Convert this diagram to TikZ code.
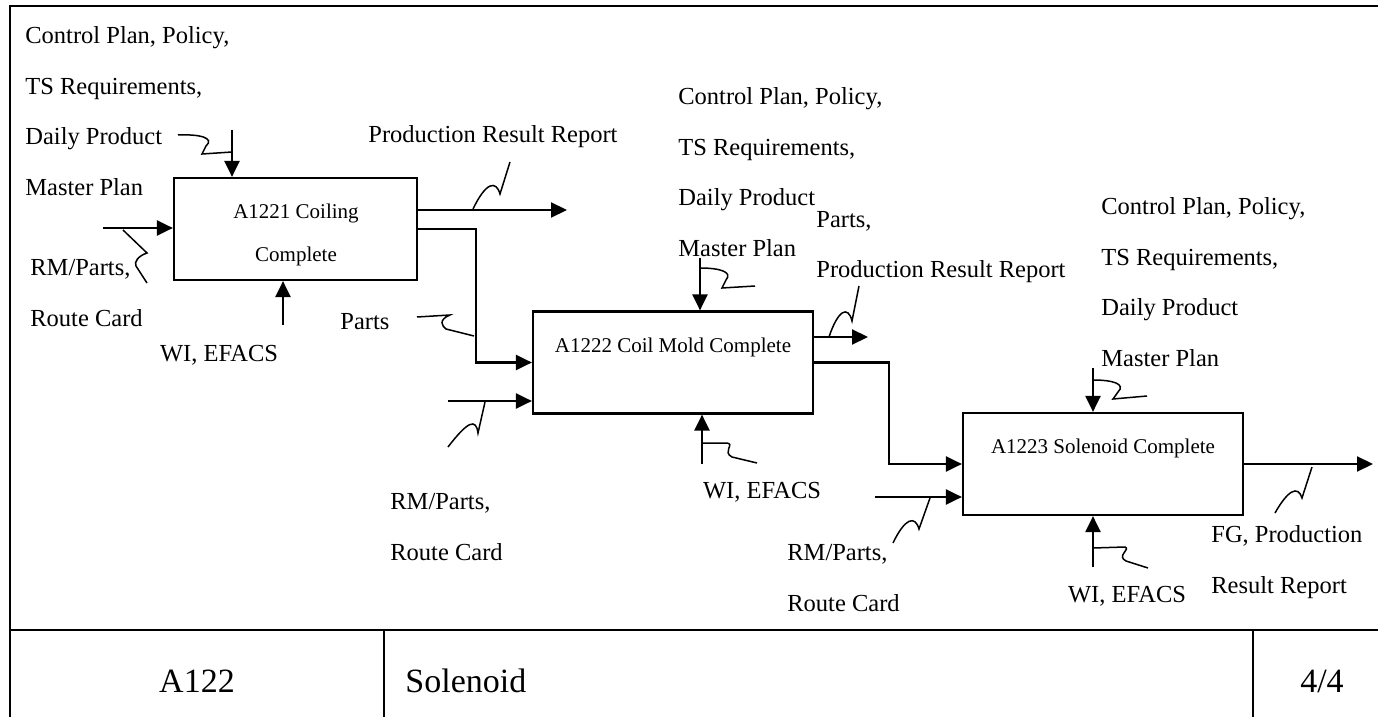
\documentclass[tikz,border=0pt]{standalone}
\usepackage{fontspec}
\setmainfont{Liberation Serif}
\usetikzlibrary{arrows.meta, calc}

\begin{document}
\begin{tikzpicture}[
    x=0.5pt, y=-0.5pt,
    >={Triangle[length=8pt, width=7.5pt]},
    flow/.style={draw, line width=1.1pt, ->},
    squig/.style={draw, line width=0.75pt},
    actbox/.style={draw, line width=1.1pt, minimum width=#1, minimum height=51pt, inner sep=0pt},
    boxtxt/.style={font=\fontsize{10.5}{21.5}\selectfont, align=center, inner sep=0pt},
    lbl/.style={font=\fontsize{12.25}{25.3}\selectfont, align=left, inner sep=0pt, anchor=west},
    cell/.style={font=\fontsize{17}{20}\selectfont, inner sep=0pt},
]
    \useasboundingbox (0,0) rectangle (1378,717);

    % Frame and title row
    \draw[line width=1pt] (1378,6) -- (10,6) -- (10,717);
    \draw[line width=1pt] (10,630) -- (1378,630);
    \draw[line width=1pt] (384,630) -- (384,717) (1253,630) -- (1253,717);
    \node[cell] (id) at (197,681) {A122};
    \node[cell, anchor=west] (title) at (405,681) {Solenoid};
    \node[cell] (page) at (1322,681) {4/4};

    % Activity boxes
    \node[actbox=121.5pt] (b1) at (295.5,229) {};
    \node[actbox=140pt] (b2) at (673,362.5) {};
    \node[actbox=140pt] (b3) at (1103,464) {};
    \node[boxtxt] (b1t) at (296,234.5) {A1221 Coiling\\Complete};
    \node[boxtxt] (b2t) at (673,347) {A1222 Coil Mold Complete};
    \node[boxtxt] (b3t) at (1103,448) {A1223 Solenoid Complete};

    % Free ends
    \coordinate (c1) at (232,130);
    \coordinate (m1) at (283,325);
    \coordinate (i1) at (103,228);
    \coordinate (o1) at (567,210);
    \coordinate (c2) at (700,258);
    \coordinate (m2) at (702,464);
    \coordinate (i2) at (448,401);
    \coordinate (o2) at (868,337);
    \coordinate (c3) at (1093,368);
    \coordinate (m3) at (1093,567);
    \coordinate (i3) at (875,497);
    \coordinate (o3) at (1373,463);

    % A1221
    \draw[flow] (c1) -- (c1 |- b1.north);
    \draw[flow] (m1) -- (m1 |- b1.south);
    \draw[flow] (i1) -- (i1 -| b1.west);
    \draw[flow] (b1.east |- o1) -- (o1);
    \draw[flow] (b1.east) -- ++(58,0) |- (b2.west);

    % A1222
    \draw[flow] (c2) -- (c2 |- b2.north);
    \draw[flow] (m2) -- (m2 |- b2.south);
    \draw[flow] (i2) -- (i2 -| b2.west);
    \draw[flow] (b2.east |- o2) -- (o2);
    \draw[flow] (b2.east) -- ++(75,0) |- (b3.west);

    % A1223
    \draw[flow] (c3) -- (c3 |- b3.north);
    \draw[flow] (m3) -- (m3 |- b3.south);
    \draw[flow] (i3) -- (i3 -| b3.west);
    \draw[flow] (b3.east) -- (b3.east -| o3);

    % Squiggles
    \draw[squig] (178,135) .. controls (200,134) and (215,138) .. (206,146) -- (202,154) -- (232,152);
    \draw[squig] (123,230) -- (147,253) .. controls (138,256) and (134,262) .. (136,266) -- (147,283);
    \draw[squig] (510,162) -- (500,194) .. controls (496,180) and (486,182) .. (473,209);
    \draw[squig] (417,317) -- (450,315) .. controls (438,320) and (442,326) .. (446,329) -- (474,336);
    \draw[squig] (700,268) .. controls (720,268) and (733,272) .. (726,280) -- (722,288) -- (755,286);
    \draw[squig] (485,402) -- (478,433) .. controls (476,418) and (468,421) .. (448,447);
    \draw[squig] (702,443) -- (727,443) .. controls (735,444) and (722,452) .. (732,457) -- (757,463);
    \draw[squig] (859,286) -- (852,321) .. controls (848,305) and (838,310) .. (829,337);
    \draw[squig] (1093,380) .. controls (1113,380) and (1126,384) .. (1118,392) -- (1113,399) -- (1147,396);
    \draw[squig] (930,498) -- (919,529) .. controls (915,515) and (905,518) .. (893,543);
    \draw[squig] (1093,548) -- (1125,547) .. controls (1131,549) and (1116,556) .. (1126,561) -- (1148,568);
    \draw[squig] (1312,467) -- (1302,498) .. controls (1298,485) and (1288,490) .. (1275,513);

    % Labels
    \node[lbl] (l1) at (25,111) {Control Plan, Policy,\\TS Requirements,\\Daily Product\\Master Plan};
    \node[lbl] (l2) at (30,293) {RM/Parts,\\Route Card};
    \node[lbl, anchor=center] (l3) at (219,355) {WI, EFACS};
    \node[lbl] (l4) at (368,137) {Production Result Report};
    \node[lbl] (l5) at (340,322) {Parts};
    \node[lbl] (l6) at (678,172) {Control Plan, Policy,\\TS Requirements,\\Daily Product\\Master Plan};
    \node[lbl] (l7) at (816,247) {Parts,\\Production Result Report};
    \node[lbl] (l8) at (390,527) {RM/Parts,\\Route Card};
    \node[lbl, anchor=center] (l9) at (762,492) {WI, EFACS};
    \node[lbl] (l10) at (1101,282) {Control Plan, Policy,\\TS Requirements,\\Daily Product\\Master Plan};
    \node[lbl] (l11) at (787,578) {RM/Parts,\\Route Card};
    \node[lbl, anchor=center] (l12) at (1127,596) {WI, EFACS};
    \node[lbl] (l13) at (1211,562) {FG, Production\\Result Report};
\end{tikzpicture}
\end{document}
